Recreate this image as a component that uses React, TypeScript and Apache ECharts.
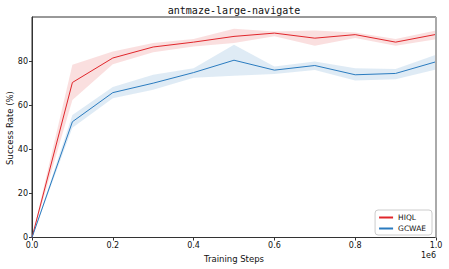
import React, { useEffect, useRef } from "react";
import * as echarts from "echarts";

const steps = [0, 100000, 200000, 300000, 400000, 500000, 600000, 700000, 800000, 900000, 1000000];
const hiqlMean = [0, 70.3, 81.4, 86.4, 88.6, 91.2, 92.7, 90.4, 92.0, 88.6, 92.1];
const hiqlLow = [0, 62.4, 78.6, 84.0, 86.6, 88.2, 91.3, 87.0, 90.5, 87.0, 89.9];
const hiqlHigh = [0, 78.3, 84.4, 88.2, 90.0, 94.7, 93.4, 93.9, 93.0, 90.0, 93.9];
const gcwaeMean = [0, 52.5, 65.7, 70.0, 74.8, 80.4, 75.9, 78.0, 73.8, 74.4, 79.7];
const gcwaeLow = [0, 49.8, 63.2, 67.0, 72.5, 73.3, 74.2, 76.0, 71.2, 71.8, 76.2];
const gcwaeHigh = [0, 55.6, 68.2, 73.8, 76.8, 87.4, 77.5, 79.8, 76.8, 76.4, 82.9];
const xTicks = [0, 200000, 400000, 600000, 800000, 1000000];
const yTicks = [0, 20, 40, 60, 80];

const RED = "#e0262b";
const BLUE = "#2a7bbf";

export default function App() {
  const ref = useRef<HTMLDivElement>(null);
  useEffect(() => {
    if (!ref.current) return;
    const chart = echarts.init(ref.current, null, { renderer: "svg" });
    const pairs = (arr: number[]) => steps.map((s, i) => [s, arr[i]]);
    const bands = [
      { lo: hiqlLow, hi: hiqlHigh, color: "rgba(224,38,43,0.15)" },
      { lo: gcwaeLow, hi: gcwaeHigh, color: "rgba(42,123,191,0.15)" },
    ];
    chart.setOption({
      animation: false,
      grid: {
        left: 32,
        right: 13,
        top: 17,
        bottom: 31.5,
        show: true,
        backgroundColor: "transparent",
        borderColor: "#333",
        borderWidth: 1,
        outerBoundsMode: "none",
        containLabel: false,
      },
      legend: {
        data: [
          { name: "HIQL", icon: "rect" },
          { name: "GCWAE", icon: "rect" },
        ],
        orient: "vertical",
        right: 17,
        bottom: 34,
        itemWidth: 14,
        itemHeight: 2,
        itemGap: 2,
        padding: [3, 6, 2, 4],
        backgroundColor: "#fff",
        borderColor: "#ccc",
        borderWidth: 1,
        borderRadius: 3,
        textStyle: { fontFamily: "DejaVu Sans", fontSize: 7.5, color: "#111", lineHeight: 9 },
      },
      xAxis: {
        type: "value",
        min: 0,
        max: 1000000,
        interval: 200000,
        name: "Training Steps",
        nameLocation: "middle",
        nameGap: 15,
        nameTextStyle: { fontFamily: "DejaVu Sans", fontSize: 8.5, color: "#111" },
        splitLine: { show: false },
        axisLine: { lineStyle: { color: "#333" } },
        axisTick: { length: 3, lineStyle: { color: "#333" }, customValues: xTicks },
        axisLabel: {
          fontFamily: "DejaVu Sans",
          fontSize: 8,
          color: "#111",
          margin: 4,
          customValues: xTicks,
          formatter: (v: number) => (v / 1e6).toFixed(1),
        },
      },
      yAxis: {
        type: "value",
        min: 0,
        max: 100,
        interval: 20,
        splitLine: { show: false },
        axisLine: { show: true, lineStyle: { color: "#333" } },
        axisTick: { show: true, length: 3, lineStyle: { color: "#333" }, customValues: yTicks },
        axisLabel: { fontFamily: "DejaVu Sans", fontSize: 8, color: "#111", margin: 4, customValues: yTicks },
      },
      graphic: [
        {
          type: "text",
          x: 234,
          y: 10,
          style: {
            text: "antmaze-large-navigate",
            font: "10px 'DejaVu Sans Mono'",
            fill: "#111",
            textAlign: "center",
            textVerticalAlign: "middle",
          },
        },
        {
          type: "text",
          x: 10,
          y: 128,
          rotation: Math.PI / 2,
          style: {
            text: "Success Rate (%)",
            font: "8.5px 'DejaVu Sans'",
            fill: "#111",
            textAlign: "center",
            textVerticalAlign: "middle",
          },
        },
        {
          type: "text",
          right: 13,
          top: 251,
          style: { text: "1e6", font: "8px 'DejaVu Sans'", fill: "#111" },
        },
        {
          type: "line",
          shape: { x1: 436, y1: 17, x2: 436, y2: 237.5 },
          style: { stroke: "#aaa", lineWidth: 2 },
          z: 100,
        },
      ],
      series: [
        {
          type: "custom",
          silent: true,
          z: 1,
          data: bands.map((_, i) => i),
          renderItem: (params: any, api: any) => {
            const b = bands[params.dataIndex];
            const up = steps.map((s, i) => api.coord([s, b.hi[i]]));
            const dn = steps.map((s, i) => api.coord([s, b.lo[i]])).reverse();
            return {
              type: "polygon",
              shape: { points: up.concat(dn) },
              style: { fill: b.color, stroke: "none" },
            };
          },
        },
        {
          type: "line",
          name: "HIQL",
          data: pairs(hiqlMean),
          symbol: "none",
          color: RED,
          lineStyle: { width: 1, color: RED },
          z: 3,
        },
        {
          type: "line",
          name: "GCWAE",
          data: pairs(gcwaeMean),
          symbol: "none",
          color: BLUE,
          lineStyle: { width: 1, color: BLUE },
          z: 3,
        },
      ],
    });
    return () => chart.dispose();
  }, []);
  return <div ref={ref} style={{ width: 449, height: 269, position: "absolute", left: 0, top: 0 }} />;
}
